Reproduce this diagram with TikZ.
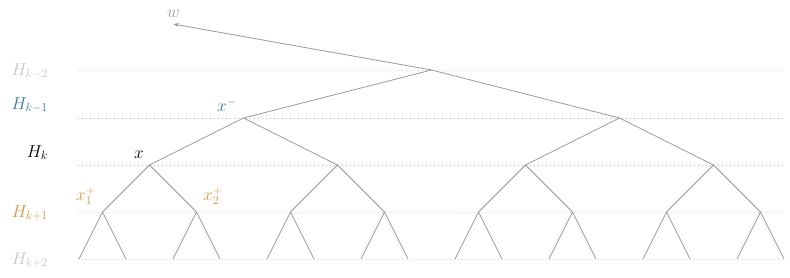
\documentclass[tikz,border=0pt]{standalone}
\usetikzlibrary{arrows.meta}
\definecolor{hblue}{HTML}{2B7F9F}
\definecolor{horange}{HTML}{E69138}
\definecolor{hgray}{HTML}{C8C8C8}
\definecolor{treegray}{HTML}{9A9A9A}
\begin{document}
\begin{tikzpicture}[x=1pt,y=-1pt,
  font=\LARGE,
  edge/.style={draw=treegray, line width=0.8pt, line join=round},
  levelline/.style={dash pattern=on 1pt off 3pt, line width=0.9pt},
  lab/.style={anchor=base east, inner sep=0pt},
  vlab/.style={anchor=base west, inner sep=0pt}]
\useasboundingbox (0,0) rectangle (790,277);
% level coordinates
\coordinate (n0-0) at (431.5,70);
\foreach \i in {0,1} \coordinate (n1-\i) at ({243.5+376*\i},118);
\foreach \i in {0,...,3} \coordinate (n2-\i) at ({149.5+188*\i},165);
\foreach \i in {0,...,7} \coordinate (n3-\i) at ({102.5+94*\i},212);
\foreach \i in {0,...,15} \coordinate (n4-\i) at ({79+47*\i},259);
% level ends
\foreach \l/\y in {0/70,1/118,2/165,3/212,4/259} {
  \coordinate (L\l-a) at (78,\y);
  \coordinate (L\l-b) at (784,\y);
}
% dotted level lines
\draw[levelline, draw=hgray!80] (L0-a) -- (L0-b);
\draw[levelline, draw=hblue!45] (L1-a) -- (L1-b);
\draw[levelline, draw=gray!55] (L2-a) -- (L2-b);
\draw[levelline, draw=horange!40] (L3-a) -- (L3-b);
\draw[levelline, draw=gray!40] (L4-a) -- (L4-b);
% tree edges
\foreach \i in {0,...,7} {
  \pgfmathtruncatemacro\a{2*\i}\pgfmathtruncatemacro\b{2*\i+1}
  \draw[edge] (n4-\a) -- (n3-\i) -- (n4-\b);
}
\foreach \i in {0,...,3} {
  \pgfmathtruncatemacro\a{2*\i}\pgfmathtruncatemacro\b{2*\i+1}
  \draw[edge] (n3-\a) -- (n2-\i) -- (n3-\b);
}
\foreach \i in {0,1} {
  \pgfmathtruncatemacro\a{2*\i}\pgfmathtruncatemacro\b{2*\i+1}
  \draw[edge] (n2-\a) -- (n1-\i) -- (n2-\b);
}
\draw[edge] (n1-0) -- (n0-0) -- (n1-1);
% arrow to w
\coordinate (wtip) at (173,24);
\draw[edge, -{Stealth[length=6pt,width=4pt]}] (n0-0) -- (wtip);
\node[vlab, text=treegray] (w) at (167,17) {$w$};
% level labels
\node[lab, text=hgray] (Hkm2) at (48,75) {$H_{k-2}$};
\node[lab, text=hblue] (Hkm1) at (48,109) {$H_{k-1}$};
\node[lab, text=black] (Hk) at (48,157) {$H_{k}$};
\node[lab, text=horange] (Hkp1) at (48,217) {$H_{k+1}$};
\node[lab, text=hgray] (Hkp2) at (48,264) {$H_{k+2}$};
% vertex labels
\node[vlab, text=hblue] (xm) at (217,111.5) {$x^-$};
\node[vlab, text=black] (x) at (134,158) {$x$};
\node[vlab, text=horange] (x1p) at (76,200.5) {$x_1^+$};
\node[vlab, text=horange] (x2p) at (203,200.5) {$x_2^+$};
\end{tikzpicture}
\end{document}
